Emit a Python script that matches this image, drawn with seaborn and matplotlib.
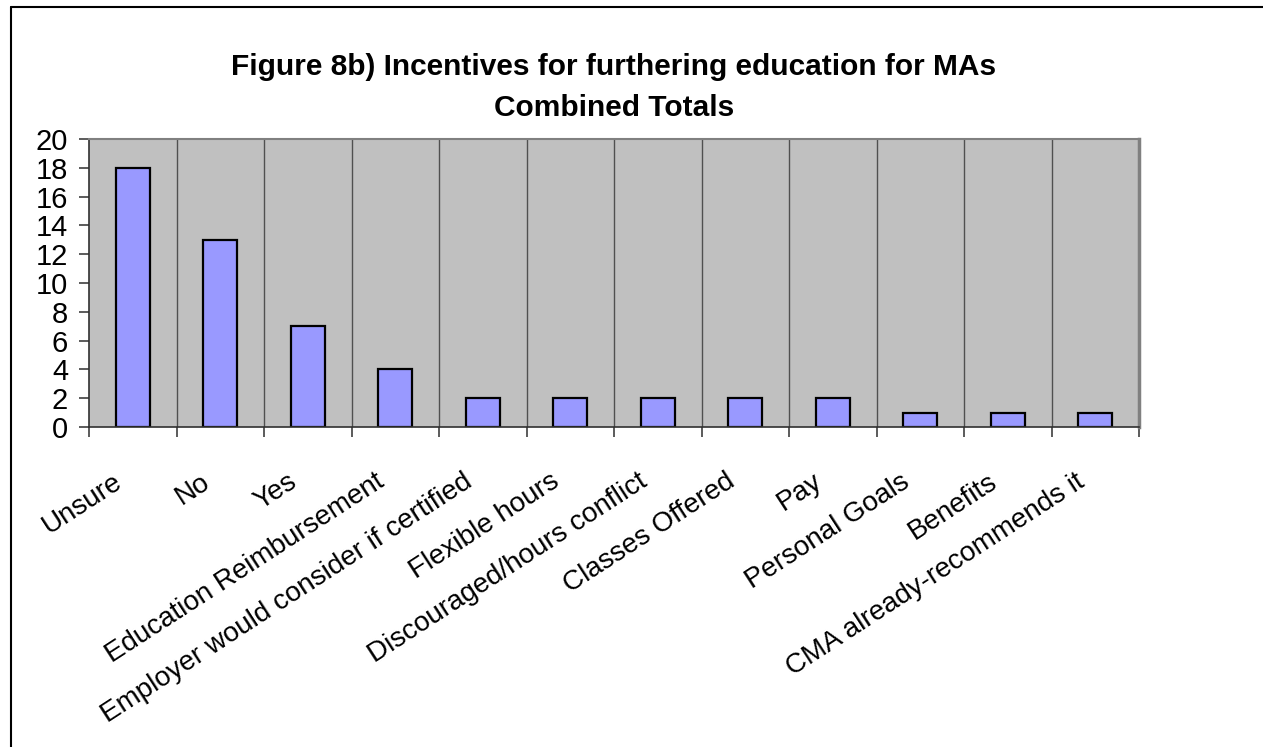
import matplotlib
matplotlib.use("Agg")
import matplotlib.pyplot as plt
import matplotlib.transforms as mtransforms
import seaborn as sns
import pandas as pd
import numpy as np
from matplotlib.lines import Line2D
from matplotlib.ticker import FixedLocator

categories = ["Unsure", "No", "Yes", "Education Reimbursement",
              "Employer would consider if certified", "Flexible hours",
              "Discouraged/hours conflict", "Classes Offered", "Pay",
              "Personal Goals", "Benefits", "CMA already-recommends it"]
values = [18, 13, 7, 4, 2, 2, 2, 2, 2, 1, 1, 1]
yticks = [0, 2, 4, 6, 8, 10, 12, 14, 16, 18, 20]
title = "Figure 8b) Incentives for furthering education for MAs\nCombined Totals"

sns.set_theme(style="white")
plt.rcParams['font.family'] = ['Liberation Sans', 'DejaVu Sans']
plt.rcParams['text.color'] = 'black'
plt.rcParams['xtick.color'] = 'black'
plt.rcParams['ytick.color'] = 'black'

df = pd.DataFrame({"cat": categories, "val": values})

W, H = 1263, 747
fig = plt.figure(figsize=(W / 100, H / 100), dpi=100)
fig.patch.set_facecolor("white")
ax = fig.add_axes([89 / W, 1 - 427 / H, (1139 - 89) / W, (427 - 139) / H])
ax.set_facecolor("#C0C0C0")

sns.barplot(data=df, x="cat", y="val", ax=ax, color="#9999FF",
            saturation=1, width=0.39, edgecolor="black", linewidth=1.6)

n = len(categories)
ax.set_xlim(-0.5, n - 0.5)
ax.set_ylim(0, 20)
ax.set_yticks(yticks)
ax.set_yticklabels([str(v) for v in yticks], fontsize=21)
ax.set_xlabel("")
ax.set_ylabel("")

ax.xaxis.set_minor_locator(FixedLocator(np.arange(-0.5, n, 1.0)))
ax.tick_params(axis="x", which="major", length=0, pad=30)
ax.tick_params(axis="x", which="minor", length=7, width=1.2, color="#404040", direction="out", bottom=True)
ax.tick_params(axis="y", which="major", length=7, width=1.2, color="#404040", direction="out", left=True, pad=8)
ax.grid(False)
for x in np.arange(0.5, n - 0.5, 1.0):
    ax.axvline(x, color="#505050", linewidth=1.0, zorder=0.5)

ax.set_xticks(range(n))
ax.set_xticklabels(categories, rotation=33, ha="right", va="top",
                   rotation_mode="anchor", fontsize=20)
shift = mtransforms.ScaledTranslation(-20 / 100, 0, fig.dpi_scale_trans)
for lbl in ax.get_xticklabels():
    lbl.set_transform(lbl.get_transform() + shift)

for s in ["left", "bottom"]:
    ax.spines[s].set_color("#303030")
    ax.spines[s].set_linewidth(1.2)
ax.spines["top"].set_color("#808080")
ax.spines["top"].set_linewidth(1.5)
ax.spines["right"].set_color("#808080")
ax.spines["right"].set_linewidth(2.5)

fig.text((89 + 1139) / 2 / W, 1 - 53 / H, title, ha="center", va="top",
         fontsize=21.5, fontweight="bold", linespacing=1.58, color="black")

# figure border (top and left)
fig.add_artist(Line2D([11 / W, 11 / W], [0, 1 - 7 / H], transform=fig.transFigure, color="black", linewidth=1.5))
fig.add_artist(Line2D([11 / W, 1], [1 - 7 / H, 1 - 7 / H], transform=fig.transFigure, color="black", linewidth=1.5))

fig.savefig("out.png", dpi=100, facecolor="white")
